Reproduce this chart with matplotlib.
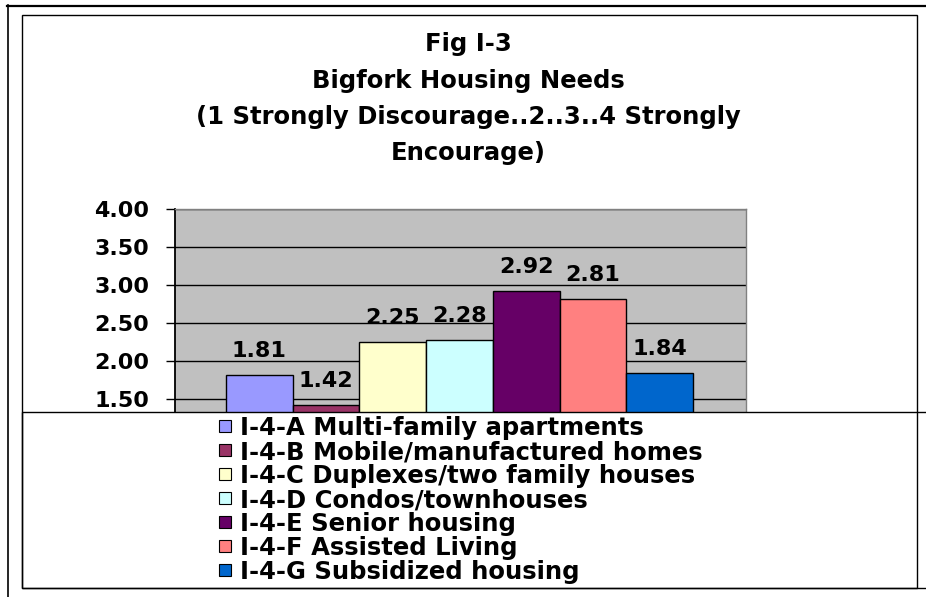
import matplotlib
matplotlib.use("Agg")
from matplotlib import pyplot as plt
from matplotlib.patches import Rectangle
from matplotlib.lines import Line2D
import numpy as np

plt.rcParams['font.family'] = ['DejaVu Sans']
plt.rcParams['font.weight'] = 'bold'

title_lines = ["Fig I-3",
               "Bigfork Housing Needs",
               "(1 Strongly Discourage..2..3..4 Strongly",
               "Encourage)"]
labels = ["I-4-A Multi-family apartments",
          "I-4-B Mobile/manufactured homes",
          "I-4-C Duplexes/two family houses",
          "I-4-D Condos/townhouses",
          "I-4-E Senior housing",
          "I-4-F Assisted Living",
          "I-4-G Subsidized housing"]
values = [1.81, 1.42, 2.25, 2.28, 2.92, 2.81, 1.84]
colors = ["#9999FF", "#993366", "#FFFFCC", "#CCFFFF", "#660066", "#FF8080", "#0066CC"]
yticks = [1.50, 2.00, 2.50, 3.00, 3.50, 4.00]

W, H = 926, 597


def fx(px):
    return px / W


def fy(py):
    return 1 - py / H


fig = plt.figure(figsize=(W / 100, H / 100), dpi=100)
fig.patch.set_facecolor('white')

# plot area: top at 209px, 76px per unit, y from 1.0 (hidden under legend)
top, ppu = 209, 76.0
ymin, ymax = 1.0, 4.0
bottom = top + (ymax - ymin) * ppu
ax = fig.add_axes([fx(175), fy(bottom), fx(746) - fx(175), (bottom - top) / H])
ax.set_facecolor('#C0C0C0')

x = np.arange(len(values))
ax.bar(x, values, width=1.0, color=colors, edgecolor='black', linewidth=1.0, zorder=3)
for xi, v in zip(x, values):
    ax.annotate(f"{v:.2f}", (xi, v), xytext=(0, 13), textcoords='offset points',
                ha='center', va='baseline', fontsize=16, fontweight='bold', zorder=4)

ax.set_xlim(-1.265, 7.295)
ax.set_ylim(ymin, ymax)
ax.set_yticks(yticks)
ax.set_yticklabels([f"{t:.2f}" for t in yticks])
ax.set_xticks([])
ax.yaxis.grid(True, color='black', linewidth=1.0)
ax.set_axisbelow(True)
ax.tick_params(axis='y', direction='out', length=6.5, width=1, pad=12, labelsize=16)
ax.spines['left'].set_color('black')
ax.spines['left'].set_linewidth(1.3)
for s in ['top', 'right']:
    ax.spines[s].set_color('#808080')
    ax.spines[s].set_linewidth(1.0)
ax.spines['bottom'].set_visible(False)

# title
title_y = [44, 81, 117, 153]
for line, ty in zip(title_lines, title_y):
    fig.text(fx(468), fy(ty), line, ha='center', va='center', fontsize=17.5, fontweight='bold')

# outer and inner frames
fig.add_artist(Line2D([fx(7), fx(926)], [fy(5.5), fy(5.5)], color='black', lw=1.6))
fig.add_artist(Line2D([fx(7.5), fx(7.5)], [fy(5), fy(597)], color='black', lw=1.2))
fig.add_artist(Rectangle((fx(22), fy(588)), fx(917) - fx(22), fy(14.5) - fy(588),
                         facecolor='none', edgecolor='black', lw=1.0, zorder=6))

# legend box covering lower part of the plot
fig.add_artist(Rectangle((fx(22), fy(588)), fx(935) - fx(22), fy(412) - fy(588),
                         facecolor='white', edgecolor='black', lw=1.0, zorder=4))

handles = [Line2D([], [], marker='s', linestyle='none', markersize=8.5,
                  markerfacecolor=c, markeredgecolor='black', markeredgewidth=0.8)
           for c in colors]
fig.legend(handles, labels, loc='upper left', bbox_to_anchor=(fx(216), fy(416)),
           frameon=False, prop={'weight': 'bold', 'size': 17.5},
           handlelength=0.7, handletextpad=0.3, labelspacing=0.0,
           borderpad=0, borderaxespad=0)

fig.savefig('out.png', dpi=100, facecolor='white')
